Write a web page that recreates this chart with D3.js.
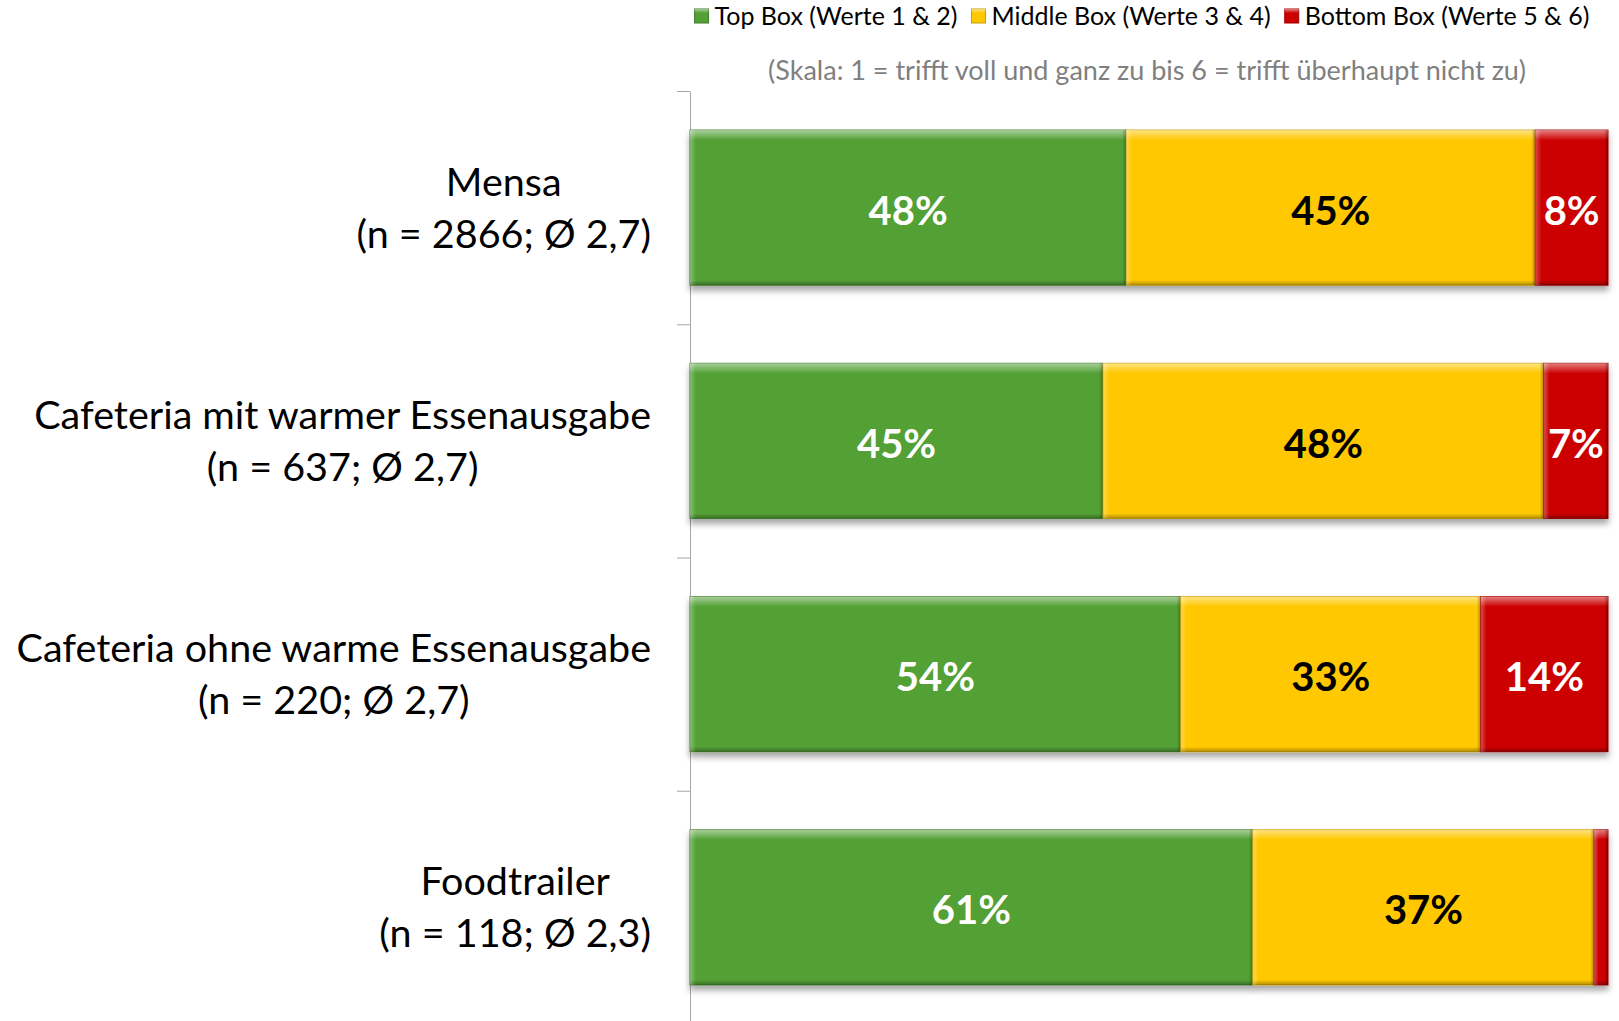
<!DOCTYPE html>
<html>
<head>
<meta charset="utf-8">
<script src="https://cdn.jsdelivr.net/npm/d3@7"></script>
<style>
body { margin: 0; background: #fff; }
svg { display: block; font-family: Lato, "Open Sans", sans-serif; }
</style>
</head>
<body>
<div id="chart"></div>
<script>
//=====================================================
// data
var categories = ["Mensa", "Cafeteria mit warmer Essenausgabe", "Cafeteria ohne warme Essenausgabe", "Foodtrailer"];
var sampleInfo = ["(n = 2866; Ø 2,7)", "(n = 637; Ø 2,7)", "(n = 220; Ø 2,7)", "(n = 118; Ø 2,3)"];
var topBox = [48, 45, 54, 61];
var middleBox = [45, 48, 33, 37];
var bottomBox = [8, 7, 14, 1.5];
var seriesKeys = ["top", "mid", "bot"];
var seriesNames = ["Top Box (Werte 1 & 2)", "Middle Box (Werte 3 & 4)", "Bottom Box (Werte 5 & 6)"];
var seriesColors = ["#53a036", "#ffc800", "#cc0000"];
var labelColors = ["#ffffff", "#000000", "#ffffff"];
var scaleNote = "(Skala: 1 = trifft voll und ganz zu bis 6 = trifft überhaupt nicht zu)";

//=====================================================
var width = 1619, height = 1021;
var plotLeft = 690, plotRight = 1608, plotTop = 91, plotBottom = 1024;
var labelRight = 651;

var rows = categories.map(function(c, i) {
  return { cat: c, top: topBox[i], mid: middleBox[i], bot: bottomBox[i] };
});

// 100% stacked, like the spreadsheet chart
var stacked = d3.stack().keys(seriesKeys).offset(d3.stackOffsetExpand)(rows);

var x = d3.scaleLinear().domain([0, 1]).range([plotLeft, plotRight]);
var y = d3.scaleBand().domain(categories).range([plotTop, plotBottom])
  .paddingInner(0.335).paddingOuter(0.1675);
var color = d3.scaleOrdinal().domain(seriesKeys).range(seriesColors);

var svg = d3.select("#chart").append("svg")
  .attr("width", width)
  .attr("height", height);

var defs = svg.append("defs");

var shadow = defs.append("filter").attr("id", "shadow")
  .attr("x", "-5%").attr("y", "-10%").attr("width", "110%").attr("height", "135%");
shadow.append("feDropShadow")
  .attr("dx", 0).attr("dy", 5).attr("stdDeviation", 3)
  .attr("flood-color", "#000").attr("flood-opacity", 0.35);

function grad(id, horizontal, c, o1, o2) {
  var g = defs.append("linearGradient").attr("id", id)
    .attr("x1", 0).attr("y1", 0)
    .attr("x2", horizontal ? 1 : 0).attr("y2", horizontal ? 0 : 1);
  g.append("stop").attr("offset", "0%").attr("stop-color", c).attr("stop-opacity", o1);
  g.append("stop").attr("offset", "100%").attr("stop-color", c).attr("stop-opacity", o2);
}
grad("hiTop", false, "#fff", 0.5, 0);
grad("loBottom", false, "#000", 0, 0.3);
grad("hiLeft", true, "#fff", 0.3, 0);
grad("loRight", true, "#000", 0, 0.3);

// axis with tick marks between categories
var tickScale = d3.scaleLinear().domain([0, categories.length]).range([plotTop, plotBottom]);
var axis = svg.append("g")
  .attr("transform", "translate(" + plotLeft + ",0)")
  .call(d3.axisLeft(tickScale).ticks(categories.length).tickSize(13).tickSizeOuter(0).tickFormat(""));
axis.selectAll("path, line").attr("stroke", "#a6a6a6");

// bars
var bars = svg.append("g").selectAll("g.bar")
  .data(categories)
  .enter().append("g")
  .attr("class", "bar")
  .attr("filter", "url(#shadow)");

bars.each(function(cat, i) {
  var g = d3.select(this);
  var y0 = y(cat), bh = y.bandwidth();
  stacked.forEach(function(layer) {
    var d = layer[i];
    var x0 = x(d[0]), w = x(d[1]) - x(d[0]);
    var seg = g.append("g");
    seg.append("rect")
      .attr("x", x0).attr("y", y0).attr("width", w).attr("height", bh)
      .attr("fill", color(layer.key))
      .attr("stroke", d3.color(color(layer.key)).darker(0.6))
      .attr("stroke-width", 1);
    seg.append("rect").attr("x", x0).attr("y", y0).attr("width", w).attr("height", 10).attr("fill", "url(#hiTop)");
    seg.append("rect").attr("x", x0).attr("y", y0 + bh - 5).attr("width", w).attr("height", 5).attr("fill", "url(#loBottom)");
    seg.append("rect").attr("x", x0).attr("y", y0).attr("width", Math.min(6, w / 3)).attr("height", bh).attr("fill", "url(#hiLeft)");
    seg.append("rect").attr("x", x0 + w - Math.min(4, w / 3)).attr("y", y0).attr("width", Math.min(4, w / 3)).attr("height", bh).attr("fill", "url(#loRight)");
  });
});

// value labels
var labels = svg.append("g");
stacked.forEach(function(layer, k) {
  labels.selectAll(null)
    .data(layer.filter(function(d) { return d.data[layer.key] >= 3; }))
    .enter().append("text")
    .attr("x", function(d) { return (x(d[0]) + x(d[1])) / 2; })
    .attr("y", function(d) { return y(d.data.cat) + y.bandwidth() / 2 + 17; })
    .attr("text-anchor", "middle")
    .attr("font-size", 40)
    .attr("font-weight", "bold")
    .attr("fill", labelColors[k])
    .text(function(d) { return Math.round(d.data[layer.key]) + "%"; });
});

// category labels: two centred lines, block right-aligned
var catLabels = svg.append("g").selectAll("text")
  .data(categories)
  .enter().append("text")
  .attr("text-anchor", "middle")
  .attr("font-size", 39.5)
  .attr("fill", "#000");

catLabels.each(function(cat, i) {
  var t = d3.select(this);
  var cy = y(cat) + y.bandwidth() / 2;
  var l1 = t.append("tspan").attr("x", 0).attr("y", cy - 12).text(cat);
  var l2 = t.append("tspan").attr("x", 0).attr("y", cy + 40).text(sampleInfo[i]);
  var w = Math.max(l1.node().getComputedTextLength(), l2.node().getComputedTextLength());
  t.selectAll("tspan").attr("x", labelRight - w / 2);
});

// scale note
svg.append("text")
  .attr("x", (plotLeft + plotRight) / 2 - 2)
  .attr("y", 80)
  .attr("text-anchor", "middle")
  .attr("font-size", 27)
  .attr("fill", "#7f7f7f")
  .text(scaleNote);

// legend
var legend = svg.append("g");
var lx = 0;
seriesNames.forEach(function(name, k) {
  var item = legend.append("g").attr("transform", "translate(" + lx + ",0)");
  item.append("rect").attr("x", 0).attr("y", 9).attr("width", 14).attr("height", 14)
    .attr("fill", seriesColors[k]).attr("stroke", d3.color(seriesColors[k]).darker(0.7));
  item.append("rect").attr("x", 0).attr("y", 9).attr("width", 14).attr("height", 4).attr("fill", "url(#hiTop)");
  var t = item.append("text").attr("x", 20).attr("y", 25)
    .attr("font-size", 25).attr("fill", "#000").text(name);
  lx += 20 + t.node().getComputedTextLength() + 14;
});
var legendW = lx - 14;
legend.attr("transform", "translate(" + ((plotLeft + plotRight) / 2 - 7 - legendW / 2) + ",0)");
</script>
</body>
</html>
